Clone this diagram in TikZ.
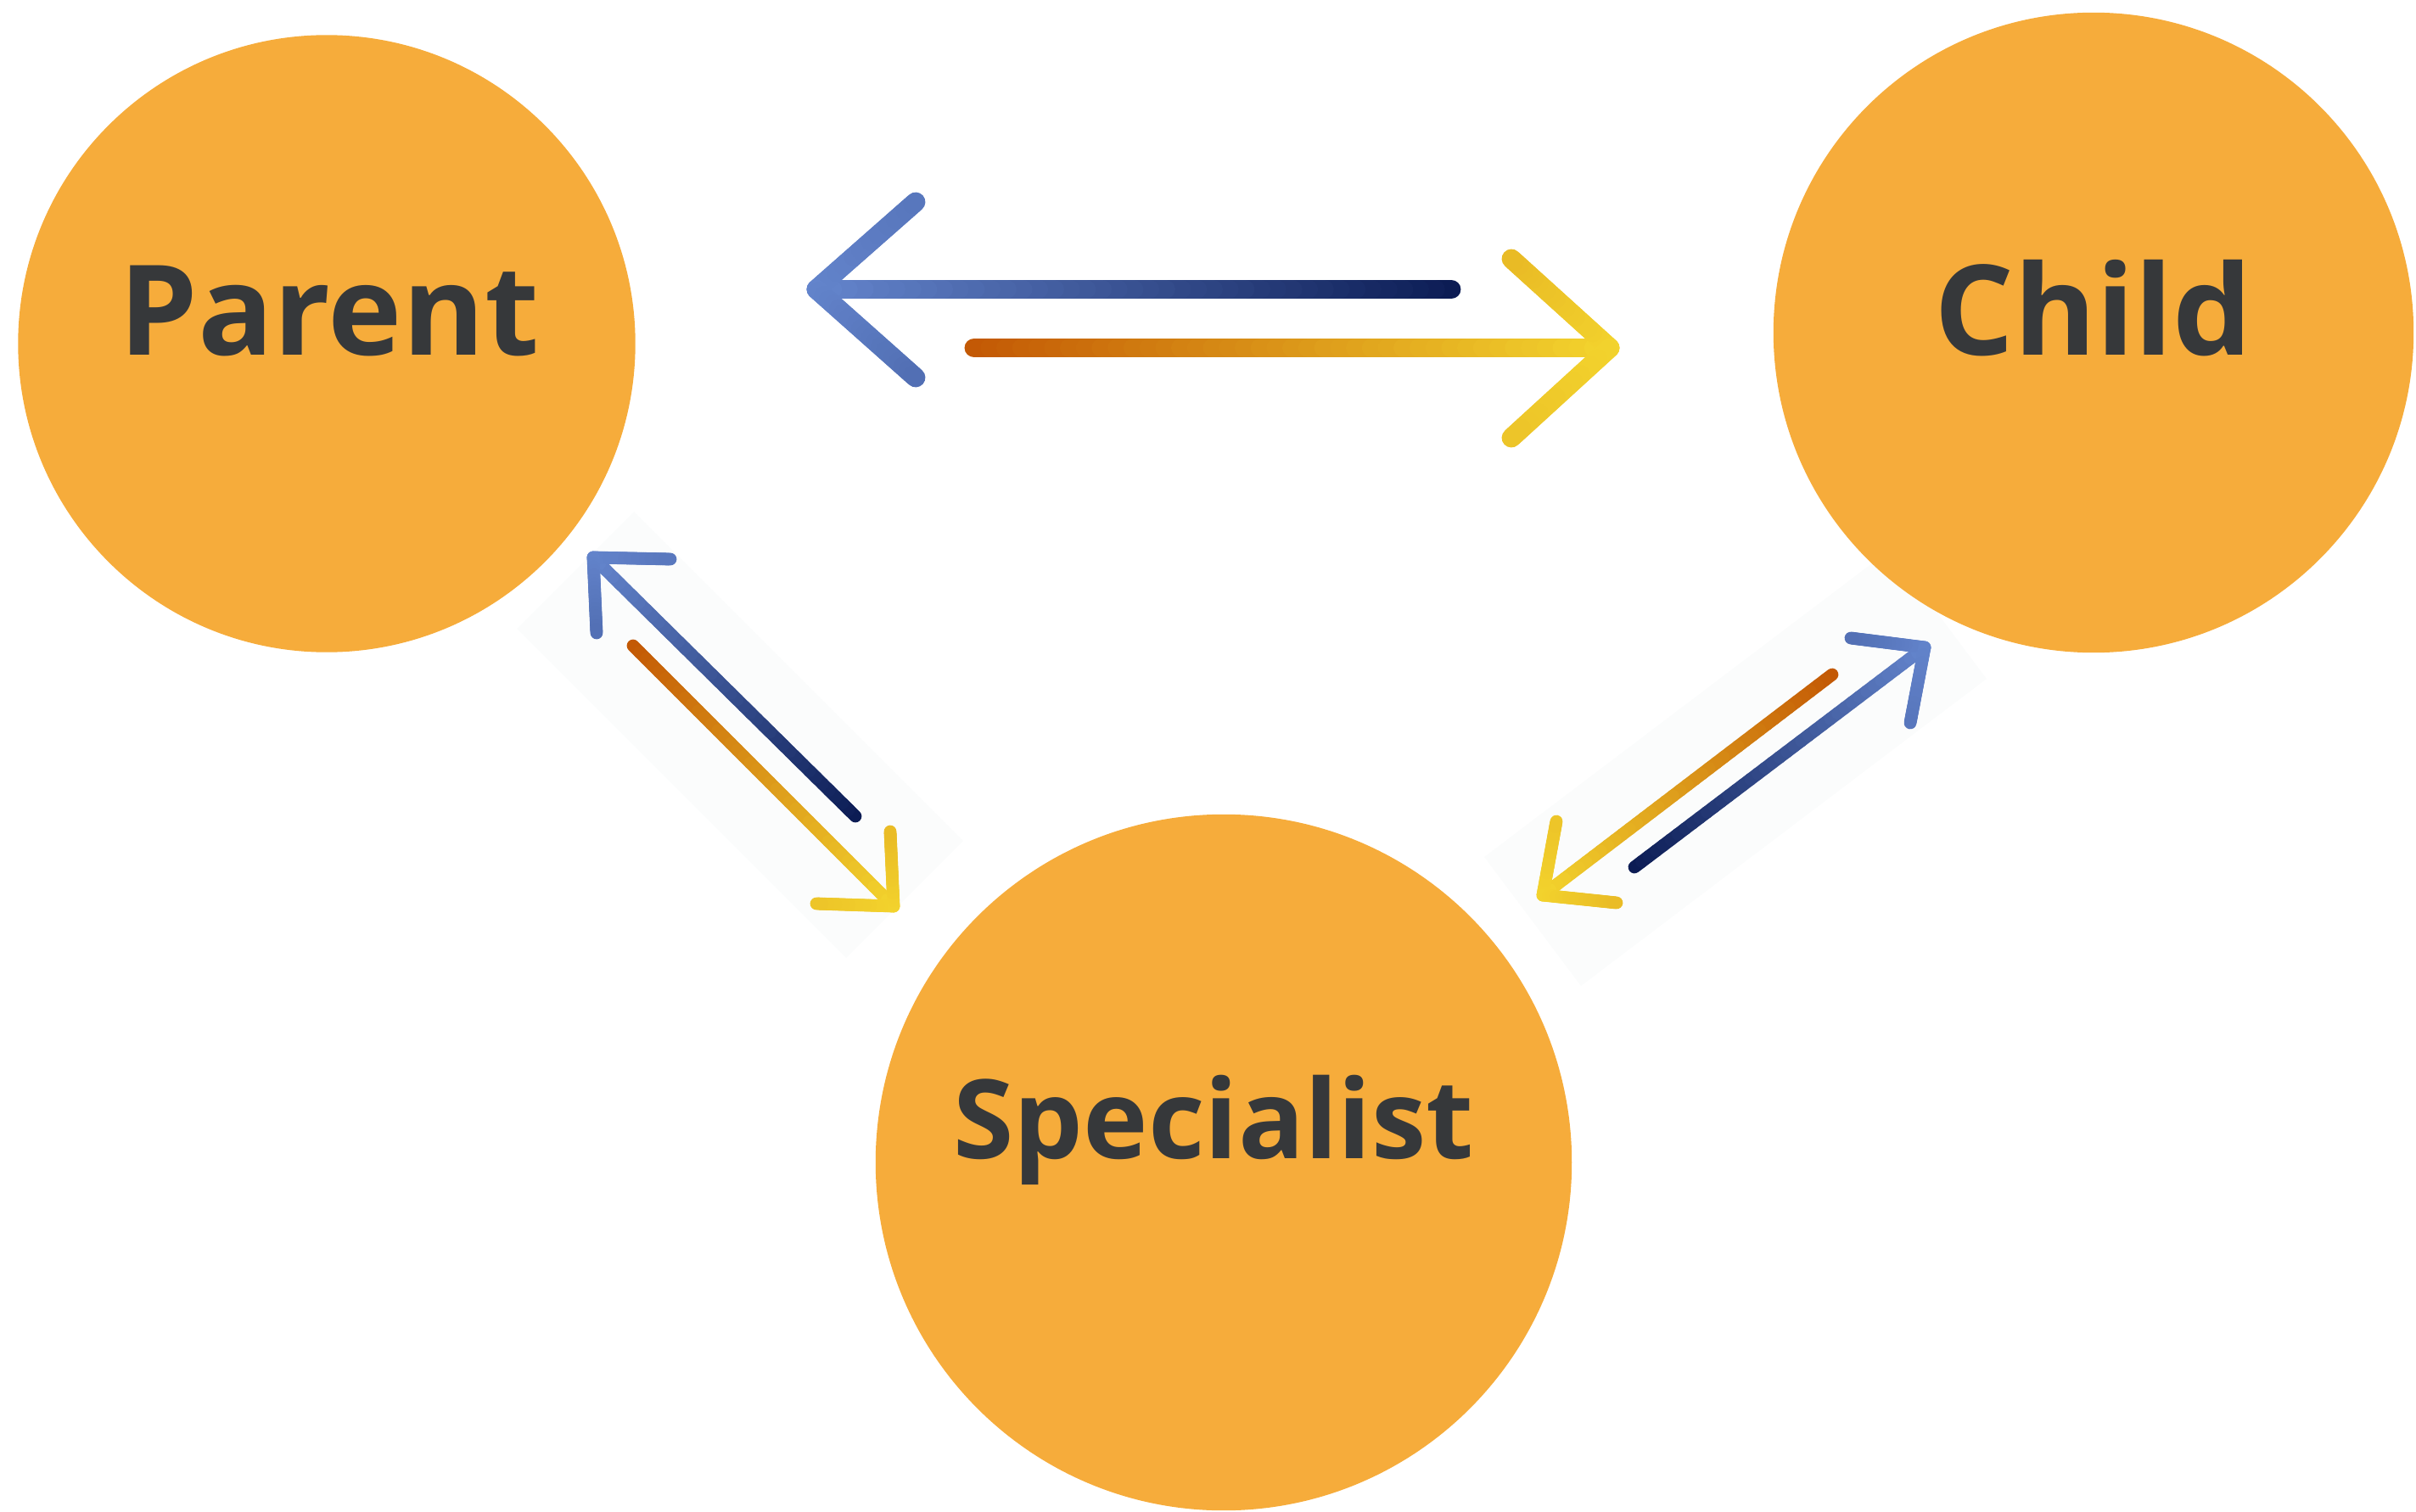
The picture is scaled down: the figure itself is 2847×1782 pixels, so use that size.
\documentclass[tikz,border=0pt]{standalone}
\usepackage{fontspec}
\newfontfamily\labfont{Open Sans}
\definecolor{circfill}{HTML}{F6AC3B}
\definecolor{txt}{HTML}{36383A}
\definecolor{bluelt}{HTML}{6586CE}
\definecolor{bluedk}{HTML}{0A1A52}
\definecolor{orgdk}{HTML}{C25604}
\definecolor{orgyl}{HTML}{F4D62E}
\definecolor{faint}{HTML}{FBFCFC}
% gradient axis from tail (colour A) to tip (colour B), tilted 15 deg to the right-hand side
\newcommand\gsetarrow[6]{%
  \pgfmathsetmacro\gdx{#3-#1}\pgfmathsetmacro\gdy{#4-#2}%
  \pgfmathsetmacro\gex{0.966*\gdx-0.259*\gdy}\pgfmathsetmacro\gey{0.966*\gdy+0.259*\gdx}%
  \pgfmathsetmacro\gax{(#1+#3)/2-\gex/2}\pgfmathsetmacro\gay{(#2+#4)/2-\gey/2}%
  \def\gca{#5}\def\gcb{#6}}
\newcommand\gprojto[3]{\pgfmathsetmacro#1{max(0,min(100,100*((((#2)-\gax)/100)*(\gex/100)+(((#3)-\gay)/100)*(\gey/100))/((\gex/100)^2+(\gey/100)^2)))}}
\newcommand\gline[5]{%
  \gprojto\gta{#2}{#3}\gprojto\gtb{#4}{#5}%
  \foreach \k in {0,...,39}{%
    \pgfmathsetmacro\xa{#2+(#4-#2)*(\k/40)}%
    \pgfmathsetmacro\ya{#3+(#5-#3)*(\k/40)}%
    \pgfmathsetmacro\xb{#2+(#4-#2)*((\k+1)/40)}%
    \pgfmathsetmacro\yb{#3+(#5-#3)*((\k+1)/40)}%
    \pgfmathtruncatemacro\tc{\gta+(\gtb-\gta)*((\k+0.5)/40)}%
    \draw[line width=#1, line cap=round, color=\gcb!\tc!\gca] (\xa,\ya) -- (\xb,\yb);
  }}
\tikzset{
  bubble/.style={circle, fill=circfill, draw=none, inner sep=0pt},
  label/.style={font=\labfont\bfseries\fontsize{42}{50}\selectfont, text=txt, anchor=base, inner sep=0pt},
  smalllabel/.style={label, font=\labfont\bfseries\fontsize{36.8}{44}\selectfont}
}
\begin{document}
\begin{tikzpicture}[x=0.01cm, y=-0.01cm]
\useasboundingbox (0,0) rectangle (2847,1782);
% faint panels behind the diagonal arrows
\fill[faint] (747,603) -- (1135,991) -- (997,1129) -- (609,741) -- cycle;
\fill[faint] (2227,648) -- (2341,800) -- (1863,1162) -- (1749,1010) -- cycle;
% circles
\node[bubble, minimum size=7.27cm] (parent) at (385,405) {};
\node[bubble, minimum size=7.54cm] (child) at (2467,392) {};
\node[bubble, minimum size=8.2cm] (spec) at (1442,1370) {};
\node[label] (parentlab) at (388,419) {Parent};
\node[label] (childlab) at (2467,419) {Child};
\node[smalllabel] (speclab) at (1430,1365) {Specialist};
% top arrows
\gsetarrow{1710}{341}{962}{341}{bluedk}{bluelt}
\gline{6.5pt}{1710}{341}{962}{341}
\gline{6.5pt}{962}{341}{1079}{238}
\gline{6.5pt}{962}{341}{1079}{445}
\gsetarrow{1148}{410}{1897}{410}{orgdk}{orgyl}
\gline{6.5pt}{1148}{410}{1897}{410}
\gline{6.5pt}{1897}{410}{1781}{305}
\gline{6.5pt}{1897}{410}{1781}{516}
% parent - specialist
\gsetarrow{1008}{962}{699}{657}{bluedk}{bluelt}
\gline{4.2pt}{1008}{962}{699}{657}
\gline{4.2pt}{699}{657}{790}{659}
\gline{4.2pt}{699}{657}{703}{746}
\gsetarrow{746}{761}{1053}{1068}{orgdk}{orgyl}
\gline{4.2pt}{746}{761}{1053}{1068}
\gline{4.2pt}{1053}{1068}{962}{1065}
\gline{4.2pt}{1053}{1068}{1049}{980}
% child - specialist
\gsetarrow{2159}{795}{1818}{1055}{orgdk}{orgyl}
\gline{4.2pt}{2159}{795}{1818}{1055}
\gline{4.2pt}{1818}{1055}{1834}{968}
\gline{4.2pt}{1818}{1055}{1905}{1064}
\gsetarrow{1926}{1022}{2268}{763}{bluedk}{bluelt}
\gline{4.2pt}{1926}{1022}{2268}{763}
\gline{4.2pt}{2268}{763}{2181}{752}
\gline{4.2pt}{2268}{763}{2251}{852}
\end{tikzpicture}
\end{document}
